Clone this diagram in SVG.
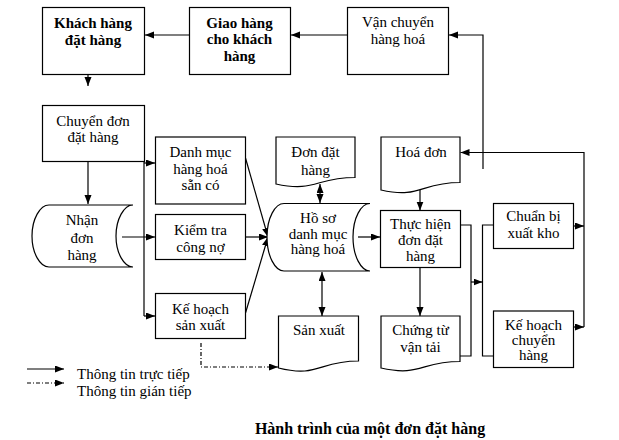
<svg xmlns="http://www.w3.org/2000/svg" width="619" height="440" viewBox="0 0 619 440">
<defs>
<marker id="ah" markerUnits="userSpaceOnUse" markerWidth="10" markerHeight="8" refX="9" refY="3.5" orient="auto-start-reverse">
<path d="M0,0 L9,3.5 L0,7 Z" fill="#000"/>
</marker>
</defs>
<style>
.box{fill:#fff;stroke:#000;stroke-width:1.2}
.t{font-family:"Liberation Serif","Times New Roman",serif;font-size:15px;fill:#000;text-anchor:middle}
.b{font-weight:bold}
.c{fill:none;stroke:#000;stroke-width:1.2}
.a{marker-end:url(#ah)}
.d{marker-start:url(#ah);marker-end:url(#ah)}
.dash{stroke-dasharray:4,2,1,2}
</style>
<rect width="619" height="440" fill="#fff"/>
<g id="connectors">
<path class="c a" d="M347,35 H291"/>
<path class="c a" d="M189,35 H145"/>
<path class="c a" d="M88,57 V86"/>
<path class="c a" d="M88,145 V204"/>
<path class="c" d="M144,161 V316"/>
<path class="c a" d="M144,163 H155"/>
<path class="c a" d="M122,237 H155"/>
<path class="c a" d="M144,316 H155"/>
<path class="c a" d="M245.5,158 L268,237"/>
<path class="c a" d="M245.5,237 H268"/>
<path class="c a" d="M245.5,313 L268,237"/>
<path class="c d" d="M320,184 V203"/>
<path class="c d" d="M322,272 V316"/>
<path class="c dash a" d="M201,343 V367 H278"/>
<path class="c a" d="M358,237 H380"/>
<path class="c a" d="M420,190 V210.5"/>
<path class="c a" d="M420,267 V316"/>
<path class="c" d="M460,225 H471 V356 H460"/>
<path class="c a" d="M471,282 H482.5"/>
<path class="c" d="M493,225 H482.5 V356 H493"/>
<path class="c a" d="M573,226 H584"/>
<path class="c a" d="M573,327 H584"/>
<path class="c a" d="M584,327 V152.5 H460.5"/>
<path class="c a" d="M483,169 V35 H449"/>
<path class="c a" d="M27,369 H64"/>
<path class="c dash a" d="M27,383 H64"/>
</g>
<g id="khach-hang">
<rect class="box" x="42.5" y="7.5" width="102" height="67"/>
<text class="t b" x="93" y="28">Khách hàng</text>
<text class="t b" x="93" y="44.5">đặt hàng</text>
</g>
<g id="giao-hang">
<rect class="box" x="189.5" y="7.5" width="101" height="67"/>
<text class="t b" x="239.5" y="28">Giao hàng</text>
<text class="t b" x="239.5" y="44">cho khách</text>
<text class="t b" x="239.5" y="60.5">hàng</text>
</g>
<g id="van-chuyen">
<rect class="box" x="347.5" y="7.5" width="101" height="67"/>
<text class="t" x="398" y="27">Vận chuyển</text>
<text class="t" x="398" y="43.5">hàng hoá</text>
</g>
<g id="chuyen-don">
<rect class="box" x="42.5" y="105.5" width="102" height="56"/>
<text class="t" x="93" y="126">Chuyển đơn</text>
<text class="t" x="93" y="142">đặt hàng</text>
</g>
<g id="nhan-don">
<path class="box" d="M49,205 H133 C124,205 116,219 116,236 C116,253 124,267 133,267 H49 C40,267 32,253 32,236 C32,219 40,205 49,205 Z"/>
<text class="t" x="82" y="224.5">Nhận</text>
<text class="t" x="82" y="242.5">đơn</text>
<text class="t" x="82" y="259.5">hàng</text>
</g>
<g id="danh-muc">
<rect class="box" x="155.5" y="137" width="90" height="67"/>
<text class="t" x="200.5" y="157">Danh mục</text>
<text class="t" x="200.5" y="173.5">hàng hoá</text>
<text class="t" x="200.5" y="190">sẵn có</text>
</g>
<g id="kiem-tra">
<rect class="box" x="155.5" y="214.5" width="90" height="45"/>
<text class="t" x="200.5" y="234.5">Kiểm tra</text>
<text class="t" x="200.5" y="252">công nợ</text>
</g>
<g id="ke-hoach-san-xuat">
<rect class="box" x="155.5" y="293.5" width="90" height="45"/>
<text class="t" x="200.5" y="313.5">Kế hoạch</text>
<text class="t" x="200.5" y="330">sản xuất</text>
</g>
<g id="don-dat-hang">
<path class="box" d="M276,137 H355 V177.5 C315.5,177.5 315.5,192.5 276,184 Z"/>
<text class="t" x="315.5" y="157">Đơn đặt</text>
<text class="t" x="315.5" y="174.5">hàng</text>
</g>
<g id="ho-so">
<path class="box" d="M284,203.5 H370 C361,203.5 353,218 353,237 C353,256 361,271 370,271 H284 C275,271 267,256 267,237 C267,218 275,203.5 284,203.5 Z"/>
<text class="t" x="318" y="222.5">Hồ sơ</text>
<text class="t" x="318" y="238.5">danh mục</text>
<text class="t" x="318" y="253.5">hàng hoá</text>
</g>
<g id="san-xuat">
<path class="box" d="M278.5,316 H358.5 V361 C318.5,361 318.5,378 278.5,368 Z"/>
<text class="t" x="319" y="335">Sản xuất</text>
</g>
<g id="hoa-don">
<path class="box" d="M381,137 H460 V182.5 C420.5,182.5 420.5,199 381,190 Z"/>
<text class="t" x="421" y="157">Hoá đơn</text>
</g>
<g id="thuc-hien">
<rect class="box" x="380.5" y="210.5" width="80" height="57"/>
<text class="t" x="420.5" y="228.5">Thực hiện</text>
<text class="t" x="420.5" y="245">đơn đặt</text>
<text class="t" x="420.5" y="261">hàng</text>
</g>
<g id="chung-tu">
<path class="box" d="M381,316 H460 V361.5 C420.5,361.5 420.5,377 381,368 Z"/>
<text class="t" x="420.5" y="335">Chứng từ</text>
<text class="t" x="420.5" y="351.5">vận tải</text>
</g>
<g id="chuan-bi">
<rect class="box" x="493.5" y="203.5" width="80" height="45"/>
<text class="t" x="533.5" y="221">Chuẩn bị</text>
<text class="t" x="533.5" y="237.5">xuất kho</text>
</g>
<g id="ke-hoach-chuyen">
<rect class="box" x="493.5" y="311" width="80" height="56.5"/>
<text class="t" x="533.5" y="329.5">Kế hoạch</text>
<text class="t" x="533.5" y="344.5">chuyển</text>
<text class="t" x="533.5" y="360">hàng</text>
</g>
<g id="legend">
<text class="t" x="77" y="379" style="text-anchor:start">Thông tin trực tiếp</text>
<text class="t" x="77" y="396" style="text-anchor:start">Thông tin gián tiếp</text>
</g>
<text class="t b" x="370" y="434" style="font-size:16px">Hành trình của một đơn đặt hàng</text>
</svg>
